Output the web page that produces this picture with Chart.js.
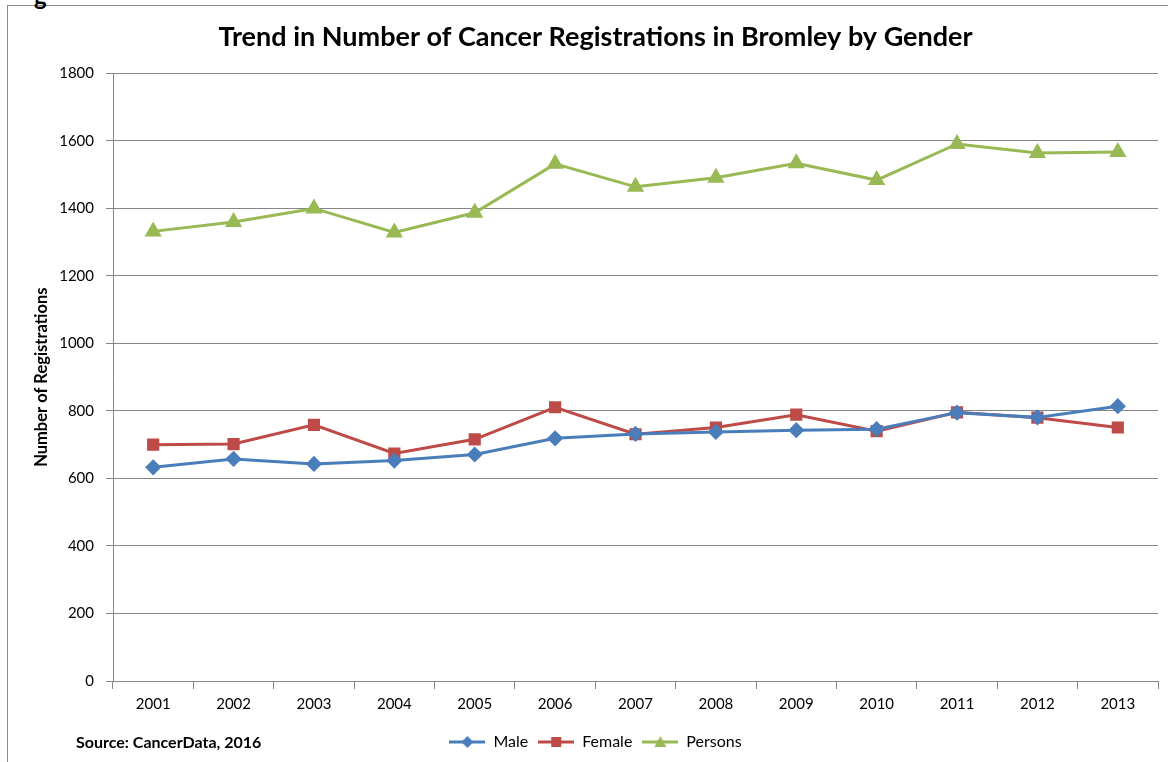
<!DOCTYPE html>
<html>
<head>
<meta charset="utf-8">
<script src="https://cdn.jsdelivr.net/npm/chart.js@4.4.1/dist/chart.umd.min.js"></script>
<style>
  html, body { margin: 0; padding: 0; background: #fff; overflow: hidden; }
  #wrap { position: absolute; left: 0; top: 0; width: 1168px; height: 762px; }
  #frame { position: absolute; left: 7px; top: 5px; width: 1200px; height: 800px; border: 1px solid #8c8c8c; box-sizing: border-box; }
  #gchar { position: absolute; left: 34px; top: -19px; font: bold 24px Lato, "Open Sans", sans-serif; color: #000; }
  #source { position: absolute; left: 76px; top: 732px; font: bold 16px Lato, "Open Sans", sans-serif; color: #000; }
  canvas { position: absolute; left: 0; top: 0; }
</style>
</head>
<body>
<div id="wrap">
  <div id="frame"></div>
  <div id="gchar">g</div>
  <canvas id="c" width="1168" height="762"></canvas>
  <div id="source">Source: CancerData, 2016</div>
</div>
<script>
const years = ['2001','2002','2003','2004','2005','2006','2007','2008','2009','2010','2011','2012','2013'];
const male = [633, 658, 643, 653, 671, 719, 732, 738, 743, 746, 795, 781, 814];
const female = [700, 702, 759, 674, 716, 811, 731, 751, 789, 740, 796, 780, 751];
const persons = [1332, 1360, 1400, 1329, 1387, 1532, 1464, 1491, 1534, 1484, 1591, 1564, 1567];
const yTicks = [0, 200, 400, 600, 800, 1000, 1200, 1400, 1600, 1800];

const FONT = 'Lato, "Open Sans", sans-serif';
const C_MALE = '#4a7ebb';
const C_FEMALE = '#be4b48';
const C_PERS = '#98b954';

function legendIcon(color, style) {
  const cv = document.createElement('canvas');
  cv.width = 36; cv.height = 14;
  const g = cv.getContext('2d');
  g.strokeStyle = color; g.lineWidth = 3;
  g.beginPath(); g.moveTo(0, 7); g.lineTo(36, 7); g.stroke();
  g.fillStyle = color;
  g.beginPath();
  if (style === 'rectRot') { g.moveTo(18, 1); g.lineTo(24, 7); g.lineTo(18, 13); g.lineTo(12, 7); }
  else if (style === 'rect') { g.rect(13, 2, 10, 10); }
  else { g.moveTo(18, 1); g.lineTo(24, 12); g.lineTo(12, 12); }
  g.closePath(); g.fill();
  return cv;
}

const icons = [legendIcon(C_MALE, 'rectRot'), legendIcon(C_FEMALE, 'rect'), legendIcon(C_PERS, 'triangle')];

new Chart(document.getElementById('c'), {
  type: 'line',
  data: {
    labels: years,
    datasets: [
      { label: 'Male', data: male, borderColor: C_MALE, backgroundColor: C_MALE, borderWidth: 3, pointStyle: 'rectRot', pointRadius: 6, tension: 0 },
      { label: 'Female', data: female, borderColor: C_FEMALE, backgroundColor: C_FEMALE, borderWidth: 3, pointStyle: 'rect', pointRadius: 6.5, tension: 0 },
      { label: 'Persons', data: persons, borderColor: C_PERS, backgroundColor: C_PERS, borderWidth: 3, pointStyle: 'triangle', pointRadius: 7, tension: 0 }
    ]
  },
  options: {
    responsive: false,
    animation: false,
    devicePixelRatio: 1,
    layout: { padding: { left: 32, right: 9, top: 0, bottom: 2 } },
    plugins: {
      tooltip: { enabled: false },
      title: {
        display: true,
        text: 'Trend in Number of Cancer Registrations in Bromley by Gender',
        color: '#000',
        font: { family: FONT, size: 27, weight: 'bold' },
        padding: { top: 21, bottom: 20 }
      },
      legend: {
        position: 'bottom',
        labels: {
          usePointStyle: true,
          pointStyleWidth: 36,
          color: '#000',
          font: { family: FONT, size: 16 },
          padding: 10,
          generateLabels: (chart) => chart.data.datasets.map((ds, i) => ({
            text: ds.label, pointStyle: icons[i], fillStyle: ds.borderColor, strokeStyle: ds.borderColor,
            lineWidth: 0, hidden: false, datasetIndex: i, fontColor: '#000'
          }))
        }
      }
    },
    scales: {
      x: {
        offset: true,
        grid: { offset: true, drawOnChartArea: false, drawTicks: true, tickLength: 8, color: '#868686' },
        border: { color: '#868686', width: 1 },
        ticks: { color: '#000', font: { family: FONT, size: 15 }, padding: 6, maxRotation: 0 },
        afterFit: (s) => { s.height = 43; }
      },
      y: {
        min: 0, max: 1800,
        afterBuildTicks: (s) => { s.ticks = yTicks.map(v => ({ value: v })); },
        grid: { color: '#868686', drawTicks: true, tickLength: 7 },
        border: { color: '#868686', width: 1 },
        ticks: { color: '#000', font: { family: FONT, size: 15 }, padding: 12, callback: (v) => String(v) },
        title: { display: true, text: 'Number of Registrations', color: '#000', font: { family: FONT, size: 16.5, weight: 'bold' }, padding: { top: 0, bottom: 10 } },
        afterFit: (s) => { s.width = 81; }
      }
    }
  }
});
</script>
</body>
</html>
